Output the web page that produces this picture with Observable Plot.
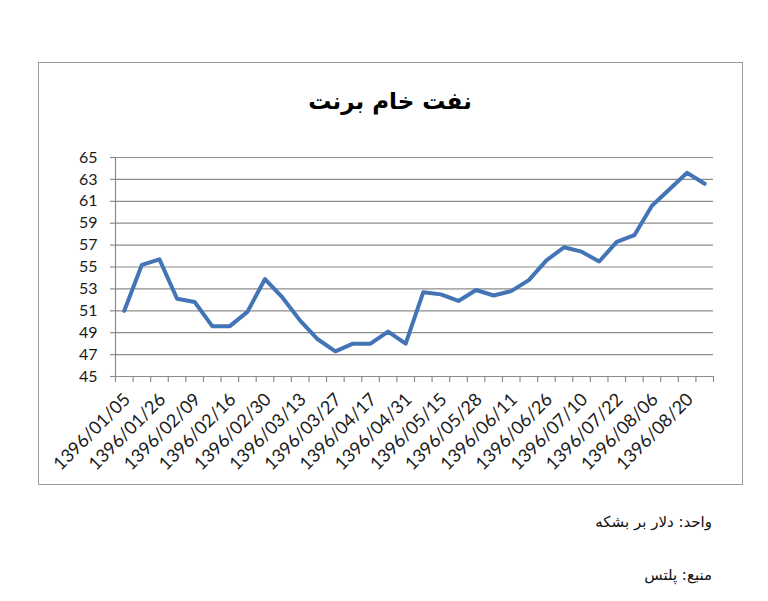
<!DOCTYPE html>
<html>
<head>
<meta charset="utf-8">
<script src="https://cdn.jsdelivr.net/npm/d3@7"></script>
<script src="https://cdn.jsdelivr.net/npm/@observablehq/plot@0.6"></script>
<style>
  html, body { margin: 0; padding: 0; background: #fff; }
  #wrap { position: relative; width: 768px; height: 601px; overflow: hidden; }
  #wrap svg { position: absolute; left: 0; top: 0; }
  #frame { position: absolute; left: 38px; top: 62px; width: 703px; height: 421px; border: 1.5px solid #9a9a9a; }
  .fa { position: absolute; font-family: "DejaVu Sans", sans-serif; direction: rtl; color: #111; white-space: nowrap; }
  #title { left: 0; width: 780px; text-align: center; top: 88px; font-size: 23px; font-weight: bold; color: #000; }
  #unit { right: 56px; top: 513px; font-size: 15px; }
  #src { right: 56px; top: 566px; font-size: 15px; }
</style>
</head>
<body>
<div id="wrap">
  <div id="frame"></div>
  <div id="title" class="fa">نفت خام برنت</div>
  <div id="unit" class="fa">واحد: دلار بر بشکه</div>
  <div id="src" class="fa">منبع: پلتس</div>
</div>
<script>
// Brent crude price, weekly (USD per barrel)
const values = [
  51.0, 55.2, 55.7, 52.1, 51.8, 49.6, 49.6, 50.9, 53.9, 52.2,
  50.1, 48.4, 47.3, 48.0, 48.0, 49.1, 48.0, 52.7, 52.5, 51.9,
  52.9, 52.4, 52.8, 53.8, 55.6, 56.8, 56.4, 55.5, 57.3, 57.9,
  60.6, 62.1, 63.6, 62.6
];
// labels shown on every second category
const tickLabels = [
  "1396/01/05", "1396/01/26", "1396/02/09", "1396/02/16", "1396/02/30",
  "1396/03/13", "1396/03/27", "1396/04/17", "1396/04/31", "1396/05/15",
  "1396/05/28", "1396/06/11", "1396/06/26", "1396/07/10", "1396/07/22",
  "1396/08/06", "1396/08/20"
];
const yTicks = [45, 47, 49, 51, 53, 55, 57, 59, 61, 63, 65];

const series = values.map((v, i) => ({i: i + 0.5, v}));
const labels = tickLabels.map((t, k) => ({x: 2 * k + 0.5, t}));
const n = values.length;
const gray = "#8c8c8c";

const chart = Plot.plot({
  width: 768,
  height: 601,
  marginLeft: 115,
  marginRight: 55,
  marginTop: 157,
  marginBottom: 225,
  style: {fontFamily: "Lato, 'Open Sans', sans-serif", background: "transparent", color: "#1a1a1a"},
  x: {type: "linear", domain: [0, n], axis: null},
  y: {domain: [45, 65], axis: null},
  marks: [
    Plot.ruleY(yTicks, {x1: 0, x2: n, stroke: gray, strokeWidth: 1.2, strokeOpacity: 1}),
    Plot.ruleX([0], {y1: 45, y2: 65, stroke: gray, strokeWidth: 1.2}),
    Plot.axisY({ticks: yTicks, label: null, tickSize: 5, tickPadding: 13, fontSize: 16, stroke: gray, strokeOpacity: 1, strokeWidth: 1.2, color: "#1a1a1a"}),
    Plot.axisX({ticks: d3.range(0, n + 1), label: null, tickFormat: () => "", tickSize: 6, stroke: gray, strokeOpacity: 1, strokeWidth: 1.2}),
    Plot.text(labels, {x: "x", y: 45, text: "t", rotate: -45, textAnchor: "end", dx: 3, dy: 20, fontSize: 18, fill: "#1a1a1a"}),
    Plot.line(series, {x: "i", y: "v", stroke: "#4274b6", strokeWidth: 4, strokeLinejoin: "round", strokeLinecap: "round"})
  ]
});
document.getElementById("wrap").insertBefore(chart, document.getElementById("frame"));
</script>
</body>
</html>
